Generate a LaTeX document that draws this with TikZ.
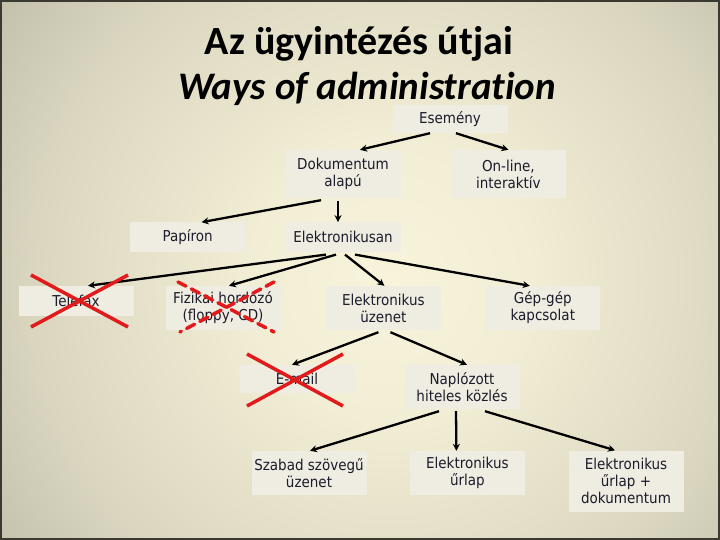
\documentclass[tikz,border=0pt]{standalone}
\usepackage{fontspec}
\usetikzlibrary{arrows.meta, positioning}

\newfontfamily\titlefont[Ligatures=NoCommon]{Carlito}
\newfontfamily\boxfont[FakeStretch=0.9]{DejaVu Sans}

\definecolor{bgcenter}{HTML}{F8F4DC}
\definecolor{bglight}{HTML}{F2EED5}
\definecolor{bgmid}{HTML}{D9D5BF}
\definecolor{bgouter}{HTML}{BCB9A6}
\definecolor{bgdark}{HTML}{9F9D8D}
\definecolor{bgedge}{HTML}{999787}
\definecolor{frame}{HTML}{3A3A32}
\definecolor{boxfill}{HTML}{EFECE1}
\definecolor{boxtext}{HTML}{1C1C2C}
\definecolor{crossred}{HTML}{E11B1B}

\pgfdeclareradialshading{slidebg}{\pgfpoint{0bp}{0bp}}{color(0bp)=(bgcenter); color(7bp)=(bglight); color(18bp)=(bgmid); color(26bp)=(bgouter); color(39bp)=(bgdark); color(50bp)=(bgedge)}

\begin{document}
\begin{tikzpicture}[
    x=1pt, y=-1pt,
    box/.style={rectangle, fill=boxfill, align=center, text=boxtext, minimum width=115pt, minimum height=44pt, inner sep=2pt, font=\boxfont\fontsize{15}{17}\selectfont},
    arrow/.style={-{Stealth[length=7pt, width=7pt]}, line width=2.3pt},
    cross/.style={draw=crossred, line width=3.5pt}
]

% Háttér
\useasboundingbox (0,0) rectangle (720,540);
\begin{scope}
\clip (0,0) rectangle (720,540);
\shade[shading=slidebg] (390,280) circle (500pt);
\end{scope}
\draw[line width=2pt, frame] (1,1) rectangle (719,539);

% Címek
\node (title) at (359,55) [anchor=base, font=\titlefont\bfseries\fontsize{40}{44}\selectfont] {Az ügyintézés útjai};
\node (subtitle) at (367,100) [anchor=base, font=\titlefont\bfseries\itshape\fontsize{39}{44}\selectfont] {Ways of administration};

% Dobozok
\node (esemeny) [box, minimum height=28pt] at (450,119) {Esemény};
\node (dokalapu) [box, minimum height=48pt] at (343,174) {Dokumentum\\alapú};
\node (online) [box, minimum height=48pt, right=50pt of dokalapu] {On-line,\\interaktív};
\node (elektr) [box, minimum height=30pt, below=24pt of dokalapu] {Elektronikusan};
\node (papiron) [box, minimum height=30pt, left=40pt of elektr] {Papíron};
\node (telefax) [box, minimum height=30pt] at (76,301) {Telefax};
\node (fizikai) [box] at (223,308) {Fizikai hordozó\\(floppy, CD)};
\node (uzenet) [box, right=45pt of fizikai] {Elektronikus\\üzenet};
\node (gepgep) [box, right=44pt of uzenet] {Gép-gép\\kapcsolat};
\node (email) [box, minimum height=28pt] at (297,379) {E-mail};
\node (naplo) [box] at (462,387) {Naplózott\\hiteles közlés};
\node (szabad) [box] at (309,473) {Szabad szövegű\\üzenet};
\node (urlap) [box, right=43pt of szabad] {Elektronikus\\űrlap};
\node (urlapdok) [box, minimum height=61pt] at (626,481) {Elektronikus\\űrlap +\\dokumentum};

% Nyilak
\draw [arrow] ([xshift=-20pt]esemeny.south) -- ([xshift=17pt]dokalapu.north);
\draw [arrow] ([xshift=6pt]esemeny.south) -- (online.north);
\draw [arrow] ([xshift=-22pt, yshift=-2pt]dokalapu.south) -- ([xshift=14pt]papiron.north);
\draw [arrow] ([xshift=-5pt, yshift=-3pt]dokalapu.south) -- ([xshift=-5pt]elektr.north);
\draw [arrow] ([xshift=-17pt, yshift=-2pt]elektr.south) -- ([xshift=12pt]telefax.north);
\draw [arrow] ([xshift=-7pt, yshift=-2pt]elektr.south) -- ([xshift=6pt]fizikai.north);
\draw [arrow] ([xshift=2pt, yshift=-2pt]elektr.south) -- ([xshift=1pt]uzenet.north);
\draw [arrow] ([xshift=12pt, yshift=-2pt]elektr.south) -- ([xshift=-13pt]gepgep.north);
\draw [arrow] ([xshift=-5pt, yshift=-2pt]uzenet.south) -- ([xshift=-5pt]email.north);
\draw [arrow] ([xshift=7pt, yshift=-2pt]uzenet.south) -- ([xshift=5pt]naplo.north);
\draw [arrow] ([xshift=-23pt, yshift=-2pt]naplo.south) -- ([xshift=1pt]szabad.north);
\draw [arrow] ([xshift=-6pt, yshift=-2pt]naplo.south) -- ([xshift=-11pt]urlap.north);
\draw [arrow] ([xshift=23pt, yshift=-2pt]naplo.south) -- ([xshift=-11pt]urlapdok.north);

% Áthúzások
\draw [cross] ([shift={(-45,-26)}]telefax.center) -- ([shift={(52,26)}]telefax.center);
\draw [cross] ([shift={(52,-26)}]telefax.center) -- ([shift={(-45,26)}]telefax.center);
\draw [cross, line cap=round, dash pattern=on 9pt off 6pt] ([shift={(-45,-26)}]fizikai.center) -- ([shift={(51,24)}]fizikai.center);
\draw [cross, line cap=round, dash pattern=on 9pt off 6pt] ([shift={(51,-26)}]fizikai.center) -- ([shift={(-43,24)}]fizikai.center);
\draw [cross] ([shift={(-50,-25)}]email.center) -- ([shift={(46,27)}]email.center);
\draw [cross] ([shift={(46,-25)}]email.center) -- ([shift={(-50,27)}]email.center);

\end{tikzpicture}
\end{document}
